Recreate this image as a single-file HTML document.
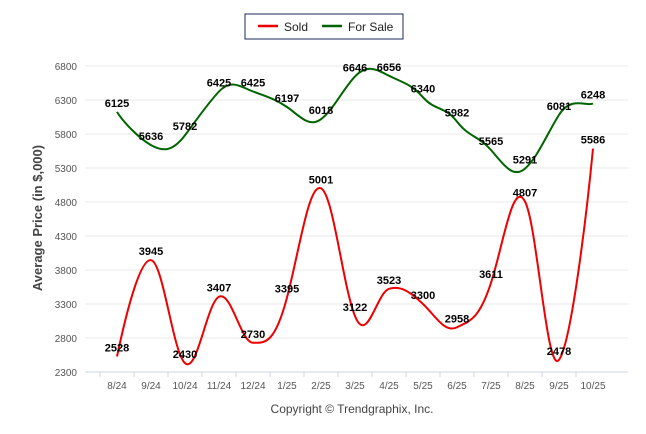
<!DOCTYPE html>
<html><head><meta charset="utf-8"><style>
body{margin:0;background:#fff;}
svg{display:block;font-family:"Liberation Sans",Arial,sans-serif;}
</style></head><body>
<svg id="c" width="646" height="434">
<rect x="245" y="14" width="158" height="25" fill="#fff" stroke="#1a2a5a" stroke-width="1"/>
<line x1="258" y1="26" x2="278" y2="26" stroke="#e00" stroke-width="2.5"/>
<text x="284" y="31" font-size="12" fill="#222">Sold</text>
<line x1="322" y1="26" x2="342" y2="26" stroke="#006400" stroke-width="2.5"/>
<text x="348" y="31" font-size="12" fill="#222">For Sale</text>
<text transform="translate(42,218) rotate(-90)" text-anchor="middle" font-size="13" font-weight="bold" fill="#444">Average Price (in $,000)</text>
<text x="352" y="413" text-anchor="middle" font-size="12" fill="#444">Copyright © Trendgraphix, Inc.</text>
<g id="g"></g>
</svg>
<script>
const categories=["8/24","9/24","10/24","11/24","12/24","1/25","2/25","3/25","4/25","5/25","6/25","7/25","8/25","9/25","10/25"];
const sold=[2528,3945,2430,3407,2730,3395,5001,3122,3523,3300,2958,3611,4807,2478,5586];
const forSale=[6125,5636,5782,6425,6425,6197,6018,6646,6656,6340,5982,5565,5291,6081,6248];
const yTicks=[2300,2800,3300,3800,4300,4800,5300,5800,6300,6800];
const NS="http://www.w3.org/2000/svg";
const g=document.getElementById('g');
const axL=85,axR=628,yMin=2300,yMax=6800,yTop=66,yBot=372;
const step=34,first=117;
const X=i=>first+step*i;
const Y=v=>yBot-(v-yMin)/(yMax-yMin)*(yBot-yTop);
function mk(t,a){const e=document.createElementNS(NS,t);for(const k in a)e.setAttribute(k,a[k]);g.appendChild(e);return e;}
yTicks.forEach(v=>{
 const l=mk('line',{x1:axL,x2:axR,y1:Y(v),y2:Y(v),stroke:'#e8e8e8','stroke-width':1});
 
 
 const t=mk('text',{x:axL-8,y:Y(v)+4,'text-anchor':'end','font-size':10,fill:'#555'});
 t.textContent=v;
 
 
});
const ax=mk('line',{x1:axL,x2:axR,y1:yBot,y2:yBot,stroke:'#ccd6eb'});


categories.forEach((c,i)=>{
 const tk=mk('line',{x1:X(i)-step/2,x2:X(i)-step/2,y1:yBot,y2:yBot+5,stroke:'#ccd6eb'});
 
 
 const t=mk('text',{x:X(i),y:yBot+17,'text-anchor':'middle','font-size':10,fill:'#555'});
 t.textContent=c;
 
 
});
function path(vals){
 const p=vals.map((v,i)=>[X(i),Y(v)]);
 let d='M'+p[0][0]+','+p[0][1];
 const s=0.3;
 for(let i=0;i<p.length-1;i++){
  const a=p[i-1]||p[i],b=p[i],c=p[i+1],e=p[i+2]||p[i+1];
  d+=` C${b[0]+(c[0]-a[0])*s/2*1.2},${b[1]+(c[1]-a[1])*s} ${c[0]-(e[0]-b[0])*s/2*1.2},${c[1]-(e[1]-b[1])*s} ${c[0]},${c[1]}`;
 }
 return d;
}
[[forSale,'#006400','for-sale'],[sold,'#e00','sold']].forEach(([vals,col,nm])=>{
 const pth=mk('path',{d:path(vals),fill:'none',stroke:col,'stroke-width':2});
 
 
 vals.forEach((v,i)=>{
  const t=mk('text',{x:X(i),y:Y(v)-5,'text-anchor':'middle','font-size':11,'font-weight':'bold',fill:'#000'});
  t.textContent=v;
  
  
 });
});
</script>
</body></html>
